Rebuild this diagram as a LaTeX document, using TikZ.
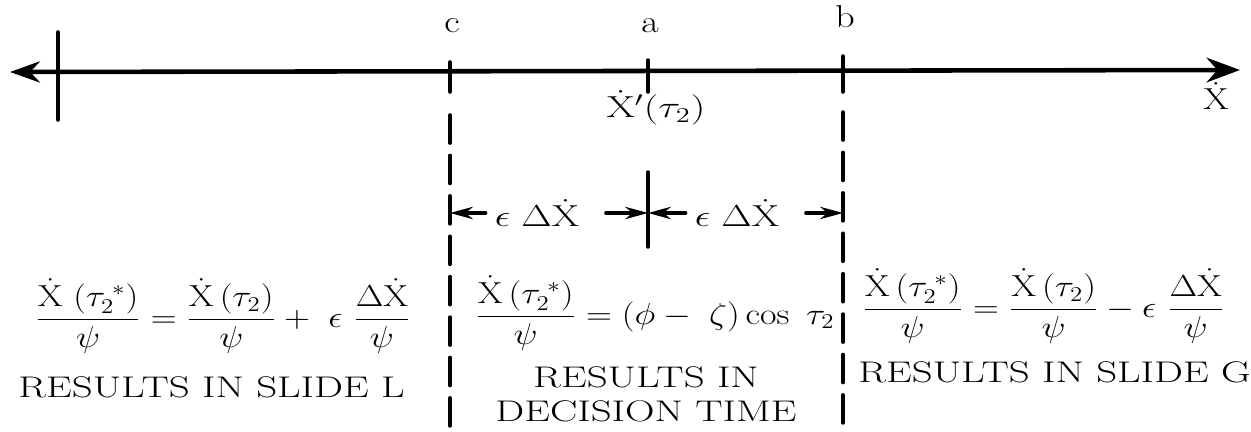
\documentclass[tikz,border=0pt]{standalone}
\usepackage{amsmath,amssymb}
\usepackage{tikz}
\usetikzlibrary{arrows.meta}
\newcommand{\wide}[2][1.37]{\scalebox{#1}[1]{#2}}
\newcommand{\Xd}{\dot{\mathrm{X}}}

\begin{document}
\begin{tikzpicture}[x=0.02cm,y=-0.02cm,>=Stealth,line cap=round,line join=round]
  \tikzset{
    axis/.style={line width=2.6pt,{Stealth[length=17pt,width=12pt]}-{Stealth[length=19pt,width=14pt]}},
    tick/.style={line width=2pt},
    border/.style={line width=2pt,dash pattern=on 16pt off 7pt},
    dimarrow/.style={line width=2pt,-{Stealth[length=13pt,width=7pt]}},
    lbl/.style={inner sep=0pt,font=\fontsize{17}{20}\selectfont},
    toplbl/.style={inner sep=0pt,font=\fontsize{18}{21}\selectfont,anchor=base},
  }
  \useasboundingbox (0,0) rectangle (1251,432);

  % Axis with its ticks
  \coordinate (axL) at (10,72);
  \coordinate (axR) at (1240,70);
  \draw[axis] (axL) -- (axR);

  \coordinate (oTop) at (58,32);  \coordinate (oBot) at (58,120);
  \coordinate (cTop) at (450,62); \coordinate (cBot) at (450,92);
  \coordinate (aTop) at (648,60); \coordinate (aBot) at (648,92);
  \coordinate (bTop) at (843,56); \coordinate (bBot) at (843,92);
  \draw[tick] (oTop) -- (oBot);
  \draw[tick] (cTop) -- (cBot);
  \draw[tick] (aTop) -- (aBot);
  \draw[tick] (bTop) -- (bBot);

  % Labels on the axis
  \node[toplbl] (cLab) at (452,33) {\wide[1.2]{c}};
  \node[toplbl] (aLab) at (650,33) {\wide[1.2]{a}};
  \node[toplbl] (bLab) at (845,28) {\wide[1.2]{b}};
  \node[lbl,anchor=base] (xLab) at (1216,110) {\wide[1.2]{$\Xd$}};
  \node[lbl,anchor=base] (xaLab) at (656,118) {\wide[1.35]{$\Xd'(\tau_2)$}};

  % Region borders (dashed)
  \coordinate (cDash) at (450,115); \coordinate (cEnd) at (450,432);
  \coordinate (bDash) at (843,112); \coordinate (bEnd) at (843,432);
  \draw[border] (cDash) -- (cEnd);
  \draw[border] (bDash) -- (bEnd);

  % Middle tick of the decision band
  \coordinate (mTop) at (648,172); \coordinate (mBot) at (648,247);
  \draw[tick] (mTop) -- (mBot);

  % Band widths
  \coordinate (cDim) at (450,213);
  \coordinate (mDim) at (648,213);
  \coordinate (bDim) at (843,213);
  \node[lbl,font=\fontsize{16}{19}\selectfont] (eps1) at (537,213) {\wide[1.3]{$\epsilon\ \Delta\Xd$}};
  \node[lbl,font=\fontsize{16}{19}\selectfont] (eps2) at (737,213) {\wide[1.3]{$\epsilon\ \Delta\Xd$}};
  \draw[dimarrow] ([xshift=-5pt]eps1.west) -- (cDim);
  \draw[dimarrow] ([xshift=15pt]eps1.east) -- (mDim);
  \draw[dimarrow] ([xshift=-5pt]eps2.west) -- (mDim);
  \draw[dimarrow] ([xshift=15pt]eps2.east) -- (bDim);

  % Relations in each region
  \node[lbl,anchor=base west] (fL) at (35,327)
    {\wide[1.18]{$\displaystyle\frac{\Xd\ (\tau_2^{\;*})}{\psi}=\frac{\Xd\,(\tau_2)}{\psi}+\ \epsilon\ \frac{\Delta\Xd}{\psi}$}};
  \node[lbl,anchor=base west] (fM) at (475,324)
    {\wide[1.18]{$\displaystyle\frac{\Xd\,(\tau_2^{\;*})}{\psi}=(\phi-\;\zeta)\cos\ \tau_2$}};
  \node[lbl,anchor=base west] (fR) at (862,317)
    {\wide[1.18]{$\displaystyle\frac{\Xd\,(\tau_2^{\;*})}{\psi}=\frac{\Xd\,(\tau_2)}{\psi}-\epsilon\ \frac{\Delta\Xd}{\psi}$}};

  % Results
  \node[lbl,anchor=base west] (rL) at (18,397) {\wide{RESULTS IN SLIDE L}};
  \node[lbl,anchor=base] (rM1) at (646,387) {\wide{RESULTS IN}};
  \node[lbl,anchor=base] (rM2) at (646,421) {\wide{DECISION TIME}};
  \node[lbl,anchor=base west] (rR) at (858,382) {\wide{RESULTS IN SLIDE G}};
\end{tikzpicture}
\end{document}
